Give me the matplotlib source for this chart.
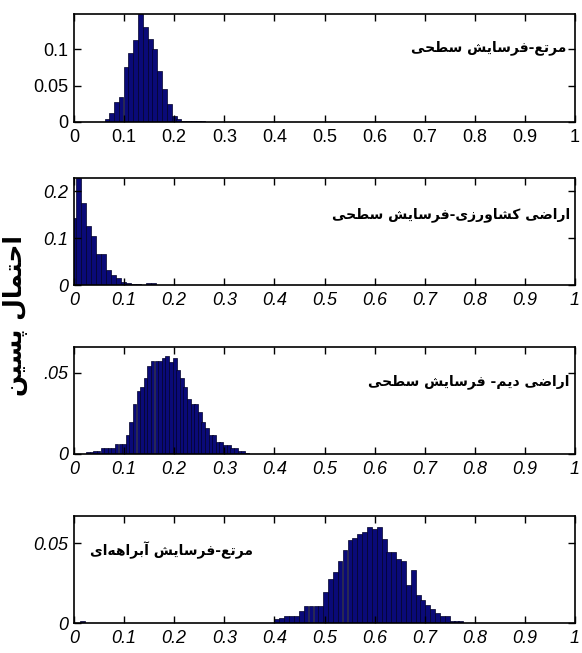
import matplotlib
matplotlib.use("Agg")
import matplotlib.pyplot as plt

# ---------------- data ----------------
p1_centers = [0.066, 0.075, 0.085, 0.094, 0.104, 0.113, 0.123, 0.133, 0.142, 0.152,
              0.161, 0.171, 0.181, 0.190, 0.200, 0.209, 0.219, 0.229, 0.238, 0.248, 0.257]
p1_heights = [0.004, 0.013, 0.027, 0.034, 0.076, 0.094, 0.112, 0.148, 0.130, 0.114,
              0.100, 0.070, 0.045, 0.025, 0.008, 0.004, 0.0015, 0.001, 0.001, 0.001, 0.001]

p2_centers = [0.000, 0.0095, 0.019, 0.029, 0.039, 0.049, 0.059, 0.069, 0.079, 0.089,
              0.099, 0.109, 0.119, 0.129, 0.139, 0.149, 0.159]
p2_heights = [0.142, 0.228, 0.175, 0.126, 0.104, 0.067, 0.067, 0.032, 0.022, 0.014,
              0.007, 0.0035, 0.002, 0.002, 0.0008, 0.0035, 0.0035]

p3_centers = [0.028, 0.035, 0.042, 0.049, 0.057, 0.064, 0.071, 0.078, 0.085, 0.093,
              0.100, 0.107, 0.114, 0.121, 0.129, 0.136, 0.143, 0.150, 0.157, 0.165,
              0.172, 0.179, 0.186, 0.193, 0.201, 0.208, 0.215, 0.222, 0.229, 0.237,
              0.244, 0.251, 0.258, 0.265, 0.273, 0.280, 0.287, 0.294, 0.301, 0.309,
              0.316, 0.323, 0.330, 0.337, 0.345]
p3_heights = [0.001, 0.001, 0.002, 0.002, 0.0035, 0.0035, 0.0035, 0.0035, 0.006, 0.006,
              0.006, 0.0117, 0.020, 0.031, 0.039, 0.0415, 0.0467, 0.054, 0.0574, 0.0574,
              0.0574, 0.0595, 0.0607, 0.057, 0.059, 0.052, 0.0467, 0.0415, 0.034, 0.031,
              0.031, 0.026, 0.020, 0.016, 0.0117, 0.0117, 0.0072, 0.0072, 0.0056, 0.0056,
              0.0035, 0.0035, 0.0019, 0.0019, 0.0008]

p4_centers = [0.017, 0.405, 0.415, 0.424, 0.434, 0.444, 0.454, 0.463, 0.473, 0.483,
              0.492, 0.502, 0.512, 0.522, 0.531, 0.541, 0.551, 0.560, 0.570, 0.580,
              0.590, 0.599, 0.609, 0.619, 0.628, 0.638, 0.648, 0.657, 0.667, 0.677,
              0.687, 0.696, 0.706, 0.716, 0.725, 0.735, 0.745, 0.755, 0.764, 0.772]
p4_heights = [0.0012, 0.0023, 0.003, 0.0044, 0.0044, 0.0044, 0.0075, 0.0106, 0.0106, 0.0106,
              0.0106, 0.0196, 0.0275, 0.032, 0.039, 0.0456, 0.052, 0.053, 0.056, 0.057,
              0.0598, 0.059, 0.0598, 0.0525, 0.0446, 0.0446, 0.040, 0.0388, 0.0237, 0.033,
              0.0175, 0.0144, 0.011, 0.009, 0.006, 0.0044, 0.0044, 0.0012, 0.0012, 0.001]

bin_widths = [0.0096, 0.0097, 0.0073, 0.0097]
y_limits = [0.148, 0.228, 0.066, 0.067]
y_ticks = [[0, 0.05, 0.1], [0, 0.1, 0.2], [0, 0.05], [0, 0.05]]
y_ticklabels = [["0", "0.05", "0.1"], ["0", "0.1", "0.2"], ["0", ".05"], ["0", "0.05"]]
x_ticks = [0, 0.1, 0.2, 0.3, 0.4, 0.5, 0.6, 0.7, 0.8, 0.9, 1.0]
x_ticklabels = ["0", "0.1", "0.2", "0.3", "0.4", "0.5", "0.6", "0.7", "0.8", "0.9", "1"]
italic_ticks = [False, True, True, True]

panel_titles = ["مرتع-فرسایش سطحی",
                "اراضی کشاورزی-فرسایش سطحی",
                "اراضی دیم- فرسایش سطحی",
                "مرتع-فرسایش آبراهه‌ای"]
y_label = "احتمال پسین"

# ---------------- minimal Persian shaping (matplotlib has no complex text layout) ----------------
DUAL = {
    'ب': ('\uFE8F', '\uFE90', '\uFE91', '\uFE92'),
    'پ': ('\uFB56', '\uFB57', '\uFB58', '\uFB59'),
    'ت': ('\uFE95', '\uFE96', '\uFE97', '\uFE98'),
    'ح': ('\uFEA1', '\uFEA2', '\uFEA3', '\uFEA4'),
    'س': ('\uFEB1', '\uFEB2', '\uFEB3', '\uFEB4'),
    'ش': ('\uFEB5', '\uFEB6', '\uFEB7', '\uFEB8'),
    'ض': ('\uFEBD', '\uFEBE', '\uFEBF', '\uFEC0'),
    'ط': ('\uFEC1', '\uFEC2', '\uFEC3', '\uFEC4'),
    'ع': ('\uFEC9', '\uFECA', '\uFECB', '\uFECC'),
    'ف': ('\uFED1', '\uFED2', '\uFED3', '\uFED4'),
    'ک': ('\uFB8E', '\uFB8F', '\uFB90', '\uFB91'),
    'ل': ('\uFEDD', '\uFEDE', '\uFEDF', '\uFEE0'),
    'م': ('\uFEE1', '\uFEE2', '\uFEE3', '\uFEE4'),
    'ن': ('\uFEE5', '\uFEE6', '\uFEE7', '\uFEE8'),
    'ه': ('\uFEE9', '\uFEEA', '\uFEEB', '\uFEEC'),
    'ی': ('\uFBFC', '\uFBFD', '\uFBFE', '\uFBFF'),
}
RIGHT = {
    'ا': ('\uFE8D', '\uFE8E'),
    'آ': ('\uFE81', '\uFE82'),
    'د': ('\uFEA9', '\uFEAA'),
    'ر': ('\uFEAD', '\uFEAE'),
    'ز': ('\uFEAF', '\uFEB0'),
    'و': ('\uFEED', '\uFEEE'),
}


def shape(s):
    out = []
    n = len(s)
    for i, c in enumerate(s):
        if c == '\u200c':
            continue
        prev = s[i - 1] if i > 0 else ''
        nxt = s[i + 1] if i + 1 < n else ''
        pj = prev in DUAL
        if c in DUAL:
            nj = (nxt in DUAL) or (nxt in RIGHT)
            f = DUAL[c]
            out.append(f[3] if (pj and nj) else f[1] if pj else f[2] if nj else f[0])
        elif c in RIGHT:
            f = RIGHT[c]
            out.append(f[1] if pj else f[0])
        else:
            out.append(c)
    return ''.join(reversed(out))


# ---------------- figure ----------------
W, H = 582, 653
fig = plt.figure(figsize=(W / 100, H / 100), dpi=100)
fig.patch.set_facecolor('white')

left, right = 74 / W, 575 / W
boxes = [(14, 122), (178, 285), (347, 454), (516, 623)]
centers_all = [p1_centers, p2_centers, p3_centers, p4_centers]
heights_all = [p1_heights, p2_heights, p3_heights, p4_heights]
title_pos = [(0.982, 0.685, 'right'), (0.99, 0.655, 'right'), (0.99, 0.68, 'right'), (0.032, 0.68, 'left')]

tick_font = ['Liberation Sans', 'DejaVu Sans']
ar_font = ['DejaVu Sans']

for k in range(4):
    top, bot = boxes[k]
    ax = fig.add_axes([left, 1 - bot / H, right - left, (bot - top) / H])
    ax.bar(centers_all[k], heights_all[k], width=bin_widths[k], align='center',
           color='#0a0a78', edgecolor='#000028', linewidth=0.5)
    ax.set_xlim(0, 1)
    ax.set_ylim(0, y_limits[k])
    ax.set_xticks(x_ticks)
    ax.set_yticks(y_ticks[k])
    style = 'italic' if italic_ticks[k] else 'normal'
    ax.set_xticklabels(x_ticklabels, fontfamily=tick_font, fontsize=13, fontstyle=style)
    ax.set_yticklabels(y_ticklabels[k], fontfamily=tick_font, fontsize=13, fontstyle=style)
    ax.tick_params(direction='in', length=5, width=1, top=True, right=True,
                   pad=4, colors='black')
    ax.tick_params(axis='x', pad=5)
    for sp in ax.spines.values():
        sp.set_linewidth(1.2)
        sp.set_color('black')
    tx, ty, ha = title_pos[k]
    ax.text(tx, ty, shape(panel_titles[k]), transform=ax.transAxes, ha=ha, va='center',
            fontsize=10, fontweight='heavy', fontfamily=ar_font, color='black')

fig.text(15 / W, 1 - 315 / H, shape(y_label), rotation=90, ha='center', va='center',
         fontsize=18, fontweight='bold', fontfamily=ar_font, color='black')

fig.savefig('out.png', dpi=100, facecolor='white')
